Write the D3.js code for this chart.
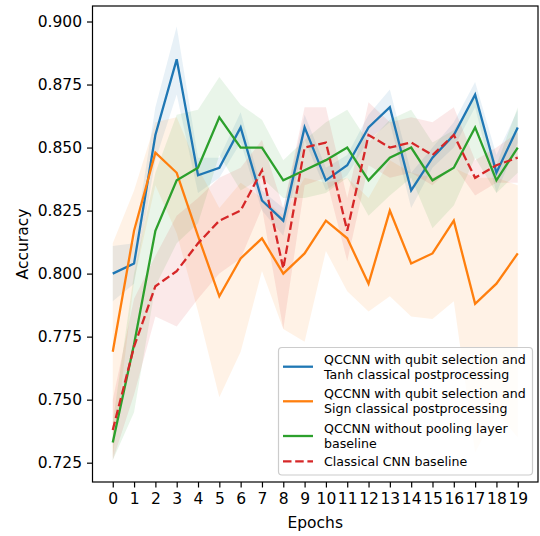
<!DOCTYPE html>
<html>
<head>
<meta charset="utf-8">
<script src="https://cdn.jsdelivr.net/npm/d3@7"></script>
<style>
  body { margin: 0; background: #fff; }
  text { font-family: 'DejaVu Sans', sans-serif; }
</style>
</head>
<body>
<div id="chart"></div>
<script>
// accuracy per epoch, mean and band (lo/hi) for each model
const epochs = d3.range(0, 20)
const tanh   = [0.800, 0.804, 0.855, 0.885, 0.839, 0.842, 0.858, 0.829, 0.821, 0.858, 0.837, 0.843, 0.858, 0.866, 0.833, 0.846, 0.855, 0.871, 0.840, 0.858]
const tanhLo = [0.789, 0.796, 0.845, 0.871, 0.832, 0.838, 0.852, 0.825, 0.815, 0.853, 0.833, 0.839, 0.853, 0.860, 0.826, 0.842, 0.850, 0.866, 0.832, 0.852]
const tanhHi = [0.811, 0.812, 0.866, 0.898, 0.846, 0.846, 0.864, 0.833, 0.826, 0.863, 0.842, 0.847, 0.863, 0.873, 0.840, 0.850, 0.860, 0.876, 0.847, 0.865]
const sign   = [0.769, 0.817, 0.848, 0.840, 0.815, 0.791, 0.806, 0.814, 0.800, 0.808, 0.821, 0.814, 0.796, 0.825, 0.804, 0.808, 0.821, 0.788, 0.796, 0.808]
const signLo = [0.727, 0.797, 0.835, 0.816, 0.785, 0.751, 0.769, 0.801, 0.778, 0.773, 0.809, 0.793, 0.785, 0.791, 0.783, 0.782, 0.789, 0.729, 0.745, 0.735]
const signHi = [0.812, 0.833, 0.860, 0.862, 0.842, 0.826, 0.836, 0.830, 0.823, 0.838, 0.836, 0.838, 0.830, 0.845, 0.840, 0.838, 0.842, 0.838, 0.838, 0.835]
const nopool   = [0.733, 0.772, 0.817, 0.837, 0.842, 0.862, 0.850, 0.850, 0.837, 0.841, 0.845, 0.850, 0.837, 0.846, 0.850, 0.837, 0.842, 0.858, 0.837, 0.850]
const nopoolLo = [0.726, 0.745, 0.795, 0.812, 0.820, 0.847, 0.833, 0.838, 0.830, 0.830, 0.832, 0.838, 0.823, 0.831, 0.838, 0.818, 0.827, 0.846, 0.832, 0.840]
const nopoolHi = [0.741, 0.800, 0.840, 0.863, 0.865, 0.878, 0.867, 0.861, 0.845, 0.853, 0.860, 0.865, 0.852, 0.861, 0.865, 0.852, 0.857, 0.870, 0.843, 0.866]
const cnn   = [0.738, 0.771, 0.795, 0.801, 0.812, 0.821, 0.825, 0.841, 0.802, 0.850, 0.852, 0.817, 0.855, 0.850, 0.852, 0.847, 0.855, 0.838, 0.843, 0.846]
const cnnLo = [0.726, 0.752, 0.783, 0.779, 0.790, 0.800, 0.806, 0.826, 0.778, 0.835, 0.838, 0.805, 0.843, 0.838, 0.840, 0.835, 0.843, 0.831, 0.836, 0.836]
const cnnHi = [0.750, 0.790, 0.807, 0.823, 0.830, 0.838, 0.842, 0.853, 0.826, 0.866, 0.866, 0.830, 0.868, 0.860, 0.862, 0.860, 0.866, 0.845, 0.850, 0.856]
const yTicks = [0.725, 0.750, 0.775, 0.800, 0.825, 0.850, 0.875, 0.900]

const series = [
    { name: ['QCCNN with qubit selection and', 'Tanh classical postprocessing'], mean: tanh, lo: tanhLo, hi: tanhHi, color: '#1f77b4', dash: null },
    { name: ['QCCNN with qubit selection and', 'Sign classical postprocessing'], mean: sign, lo: signLo, hi: signHi, color: '#ff7f0e', dash: null },
    { name: ['QCCNN without pooling layer', 'baseline'], mean: nopool, lo: nopoolLo, hi: nopoolHi, color: '#2ca02c', dash: null },
    { name: ['Classical CNN baseline'], mean: cnn, lo: cnnLo, hi: cnnHi, color: '#d62728', dash: '8.5,3.7' },
]

let width = 540,
    height = 536
let margin = { top: 6, right: 2, bottom: 54, left: 92.5 }

let svg = d3.select('#chart').append('svg').attr('width', width).attr('height', height)

let x = d3.scaleLinear().domain([-0.95, 19.95]).range([margin.left, width - margin.right])
let y = d3.scaleLinear().domain([0.71734, 0.90615]).range([height - margin.bottom, margin.top])

svg.append('defs').append('clipPath').attr('id', 'clip')
    .append('rect')
    .attr('x', margin.left).attr('y', margin.top)
    .attr('width', width - margin.right - margin.left)
    .attr('height', height - margin.bottom - margin.top)

let plot = svg.append('g').attr('clip-path', 'url(#clip)')

// bands
series.forEach(s => {
    let area = d3.area()
        .x((d, i) => x(epochs[i]))
        .y0((d, i) => y(s.lo[i]))
        .y1((d, i) => y(s.hi[i]))
    plot.append('path').datum(s.mean).attr('d', area).attr('fill', s.color).attr('fill-opacity', 0.1)
})

// lines
series.forEach(s => {
    let line = d3.line().x((d, i) => x(epochs[i])).y(d => y(d))
    plot.append('path').datum(s.mean).attr('d', line)
        .attr('fill', 'none').attr('stroke', s.color).attr('stroke-width', 2.3)
        .attr('stroke-dasharray', s.dash)
})

// axes
let xAxis = d3.axisBottom(x).tickValues(epochs).tickSize(5.5).tickPadding(5).tickFormat(d3.format('d'))
let yAxis = d3.axisLeft(y).tickValues(yTicks).tickSize(5.5).tickPadding(5).tickFormat(d3.format('.3f'))

let gx = svg.append('g').attr('transform', 'translate(0,' + (height - margin.bottom) + ')').call(xAxis)
let gy = svg.append('g').attr('transform', 'translate(' + margin.left + ',0)').call(yAxis)
;[gx, gy].forEach(g => {
    g.select('.domain').remove()
    g.selectAll('line').attr('stroke', '#000').attr('stroke-width', 1.2)
    g.selectAll('text').attr('font-size', '15.5px').attr('fill', '#000').style('font-family', 'DejaVu Sans')
})

// frame
svg.append('rect')
    .attr('x', margin.left).attr('y', margin.top)
    .attr('width', width - margin.right - margin.left)
    .attr('height', height - margin.bottom - margin.top)
    .attr('fill', 'none').attr('stroke', '#000').attr('stroke-width', 1.2)

svg.append('text')
    .attr('x', (margin.left + width - margin.right) / 2)
    .attr('y', 528)
    .attr('text-anchor', 'middle')
    .attr('font-size', '15.5px')
    .text('Epochs')

svg.append('text')
    .attr('transform', 'translate(22,' + (margin.top + height - margin.bottom) / 2 + ')rotate(-90)')
    .attr('text-anchor', 'middle')
    .attr('dy', '0.36em')
    .attr('font-size', '15.5px')
    .text('Accuracy')

// legend
let lg = svg.append('g')
lg.append('rect')
    .attr('x', 278.5).attr('y', 347.5).attr('width', 254).attr('height', 127.5)
    .attr('rx', 3.5)
    .attr('fill', '#fff').attr('fill-opacity', 0.8)
    .attr('stroke', '#cccccc').attr('stroke-width', 1.2)
let handleY = [366.7, 401.3, 436, 461.3]
series.forEach((s, i) => {
    lg.append('line')
        .attr('x1', 283).attr('x2', 313)
        .attr('y1', handleY[i]).attr('y2', handleY[i])
        .attr('stroke', s.color).attr('stroke-width', 2.3)
        .attr('stroke-dasharray', s.dash)
    let n = s.name.length
    s.name.forEach((t, j) => {
        lg.append('text')
            .attr('x', 324)
            .attr('y', handleY[i] + (j - (n - 1) / 2) * 15)
            .attr('dy', '0.36em')
            .attr('font-size', '12.6px')
            .text(t)
    })
})
</script>
</body>
</html>
